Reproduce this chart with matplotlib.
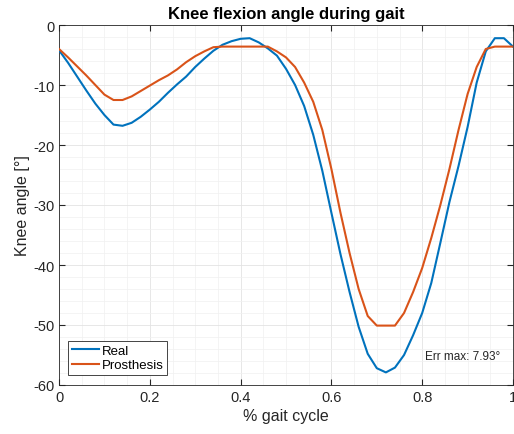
import matplotlib
matplotlib.use("Agg")
import matplotlib.pyplot as plt
from matplotlib.ticker import MultipleLocator
import numpy as np

plt.rcParams['font.family'] = ['Liberation Sans', 'DejaVu Sans']
plt.rcParams['axes.unicode_minus'] = False

gait = np.round(np.arange(0, 1.0001, 0.02), 2)

real = [-4.2, -6.3, -8.6, -10.9, -13.1, -15.0, -16.6, -16.8, -16.3, -15.3,
        -14.1, -12.8, -11.3, -9.9, -8.6, -7.0, -5.6, -4.3, -3.3, -2.7,
        -2.3, -2.2, -2.9, -3.9, -5.1, -7.3, -10.0, -13.5, -18.3, -24.3,
        -31.3, -38.2, -44.5, -50.3, -54.8, -57.2, -57.9, -57.1, -55.0, -51.7,
        -48.0, -43.0, -36.3, -29.5, -23.5, -17.0, -9.6, -4.4, -2.2, -2.2,
        -3.6]

prosthesis = [-4.0, -5.4, -6.9, -8.4, -10.0, -11.6, -12.5, -12.5, -11.9, -11.0,
              -10.1, -9.2, -8.4, -7.4, -6.2, -5.2, -4.4, -3.7, -3.6, -3.6,
              -3.6, -3.6, -3.6, -3.6, -4.4, -5.4, -7.0, -9.6, -12.8, -17.5,
              -24.0, -31.3, -38.0, -44.0, -48.5, -50.1, -50.1, -50.1, -48.0, -44.5,
              -40.5, -35.5, -30.0, -24.0, -17.5, -11.5, -7.0, -4.0, -3.6, -3.6,
              -3.6]

series_names = ["Real", "Prosthesis"]
title = "Knee flexion angle during gait"
xlabel = "% gait cycle"
ylabel = "Knee angle [°]"
annotation = "Err max: 7.93°"

fig = plt.figure(figsize=(5.14, 4.35), dpi=100)
ax = fig.add_axes([59/514, 1-386/435, 454/514, 360/435])

ax.plot(gait, real, color='#0072BD', lw=1.5, label=series_names[0], zorder=3)
ax.plot(gait, prosthesis, color='#D95319', lw=1.5, label=series_names[1], zorder=3)

ax.set_xlim(0, 1)
ax.set_ylim(-60, 0)
ax.xaxis.set_major_locator(MultipleLocator(0.2))
ax.xaxis.set_minor_locator(MultipleLocator(0.05))
ax.yaxis.set_major_locator(MultipleLocator(10))
ax.yaxis.set_minor_locator(MultipleLocator(2))
ax.set_xticks([0, 0.2, 0.4, 0.6, 0.8, 1.0])
ax.set_xticklabels(['0', '0.2', '0.4', '0.6', '0.8', '1'])

ax.grid(which='major', color='#e3e3e3', lw=0.6)
ax.grid(which='minor', color='#f0f0f0', lw=0.5)
ax.set_axisbelow(True)
ax.tick_params(which='both', direction='in', top=True, right=True,
               labelsize=10.5, colors='#262626', length=4)
ax.tick_params(which='minor', length=0)
for s in ax.spines.values():
    s.set_color('#262626')
    s.set_linewidth(0.6)

ax.set_title(title, fontsize=12, fontweight='bold', pad=5)
ax.set_xlabel(xlabel, fontsize=11.5, color='#262626', labelpad=3)
ax.set_ylabel(ylabel, fontsize=11.5, color='#262626', labelpad=2)

leg = ax.legend(loc='lower left', bbox_to_anchor=(0.015, 0.02), fontsize=9.5,
                handlelength=2.0, handletextpad=0.2, borderpad=0.3,
                labelspacing=0.15, fancybox=False, framealpha=1,
                edgecolor='#262626', borderaxespad=0.2)
leg.get_frame().set_linewidth(0.6)

ax.text(0.89, -55.2, annotation, fontsize=8.5, ha='center', va='center',
        color='#262626')

fig.savefig("out.png", dpi=100)
